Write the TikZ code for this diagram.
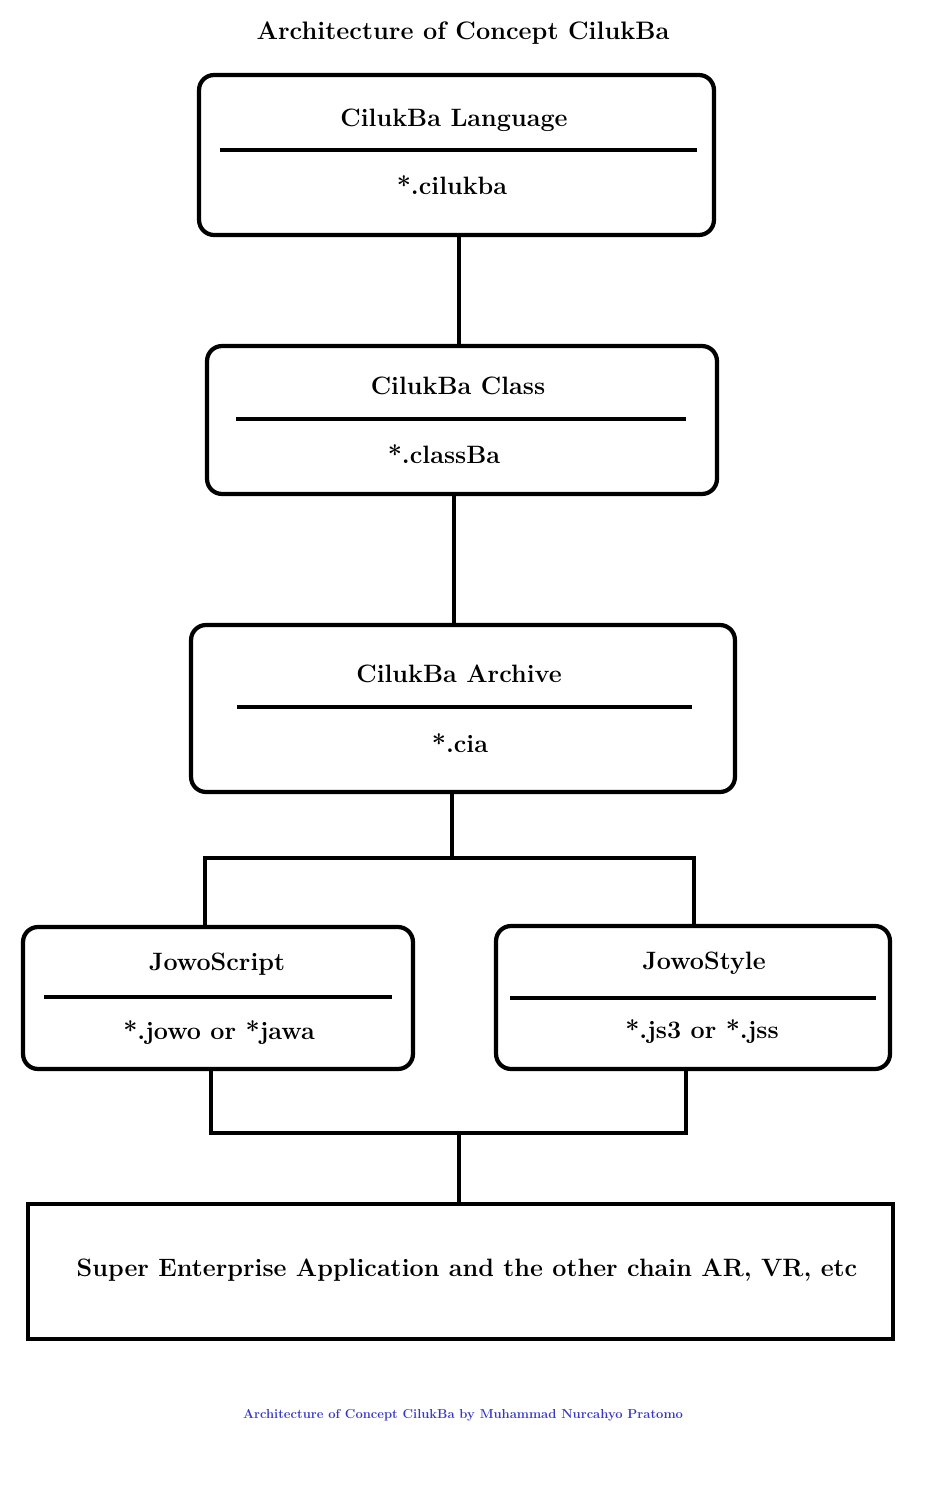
\documentclass[tikz,border=0pt]{standalone}
\usepackage{xcolor}
\definecolor{footblue}{HTML}{3636C8}
\begin{document}
\begin{tikzpicture}[x=0.02cm, y=-0.02cm, line width=2.4pt,
  box/.style={draw, rounded corners=0.3cm, inner sep=0pt},
  txt/.style={font=\fontsize{14.3}{17}\selectfont\bfseries}]
\useasboundingbox (0,0) rectangle (930,1500);
\node[font=\fontsize{14.4}{17}\selectfont\bfseries] (title) at (463,33) {Architecture of Concept CilukBa};
% boxes
\node[box, minimum width=10.3cm, minimum height=3.2cm] (lang) at (456.5,155) {};
\node[box, minimum width=10.2cm, minimum height=2.96cm] (cls) at (462,420) {};
\node[box, minimum width=10.88cm, minimum height=3.34cm] (arc) at (463,708.5) {};
\node[box, minimum width=7.8cm, minimum height=2.84cm] (jscript) at (218,998) {};
\node[box, minimum width=7.88cm, minimum height=2.86cm] (jstyle) at (693,997.5) {};
\node[draw, minimum width=17.3cm, minimum height=2.7cm] (app) at (460.5,1271.5) {};
% texts and dividers
\node[txt] (langT) at (454,120) {CilukBa Language};
\draw (220,150) -- (697,150);
\node[txt] (langS) at (452,185) {*.cilukba};
\node[txt] (clsT) at (458,386) {CilukBa Class};
\draw (236,419) -- (686,419);
\node[txt] (clsS) at (444,454) {*.classBa};
\node[txt] (arcT) at (459,674) {CilukBa Archive};
\draw (237,707) -- (692,707);
\node[txt] (arcS) at (460,743) {*.cia};
\node[txt] (jscriptT) at (217,964) {JowoScript};
\draw (44,997) -- (392,997);
\node[txt] (jscriptS) at (219,1033) {*.jowo or *jawa};
\node[txt] (jstyleT) at (704,963) {JowoStyle};
\draw (510,998) -- (876,998);
\node[txt] (jstyleS) at (702,1032) {*.js3 or *.jss};
\node[txt] (appT) at (467,1270) {Super Enterprise Application and the other chain AR, VR, etc};
% connectors
\coordinate (c1) at (459,0);
\coordinate (c2) at (454,0);
\coordinate (split) at (452,858);
\coordinate (merge) at (459,1133);
\draw (lang.south -| c1) -- (cls.north -| c1);
\draw (cls.south -| c2) -- (arc.north -| c2);
\draw (arc.south -| split) -- (split);
\draw (jscript.north -| 205,0) |- (split) -| (jstyle.north -| 694,0);
\draw (jscript.south -| 211,0) |- (merge) -| (jstyle.south -| 686,0);
\draw (merge) -- (app.north -| merge);
\node[font=\fontsize{12}{14}\selectfont\bfseries, text=footblue, scale=0.615, transform shape] (foot) at (463,1415) {Architecture of Concept CilukBa by Muhammad Nurcahyo Pratomo};
\end{tikzpicture}
\end{document}
